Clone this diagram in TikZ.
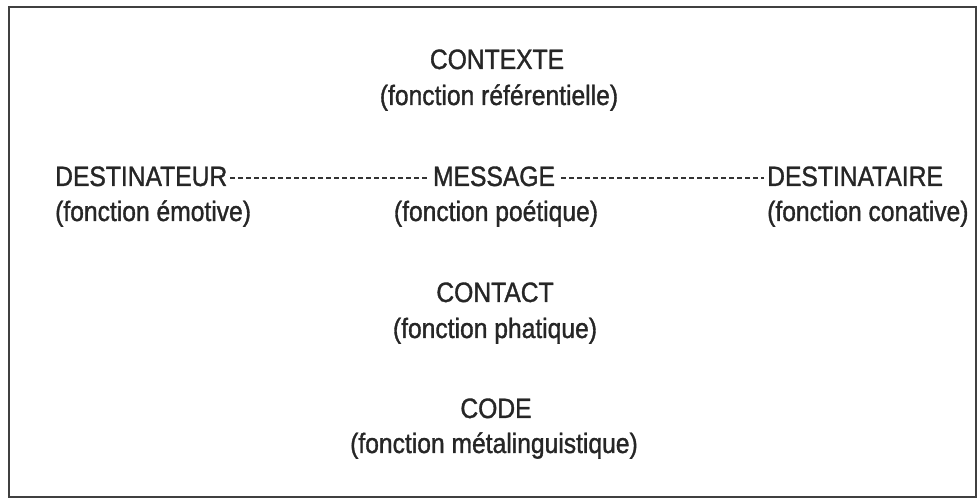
\documentclass[tikz,border=0pt]{standalone}
\usepackage{fontspec}
\setmainfont[FakeStretch=0.88,FakeBold=1.2]{Liberation Sans}
\begin{document}
\begin{tikzpicture}[x=1pt,y=1pt,
  lbl/.style={inner sep=0pt, anchor=base, font=\fontsize{28}{30}\selectfont, text=black!85},
  lblw/.style={lbl, anchor=base west},
  dashline/.style={draw=black!80, line width=2pt, dash pattern=on 5pt off 3pt},
  framebox/.style={draw=black!75, line width=2pt}]
\useasboundingbox (0,0) rectangle (977,500);
\draw[framebox] (9,3) rectangle (976,493);
% centre column
\node[lbl] (contexte) at (497,431) {CONTEXTE};
\node[lbl] (ref) at (499,395) {(fonction référentielle)};
\node[lbl] (message) at (494,314) {MESSAGE};
\node[lbl] (poet) at (496,279) {(fonction poétique)};
\node[lbl] (contact) at (495,198) {CONTACT};
\node[lbl] (phat) at (495,162) {(fonction phatique)};
\node[lbl] (code) at (496,82) {CODE};
\node[lbl] (meta) at (494,47) {(fonction métalinguistique)};
% sides
\node[lblw] (dest) at (55,314) {DESTINATEUR};
\node[lblw] (emot) at (55,279) {(fonction émotive)};
\node[lblw] (destre) at (767,314) {DESTINATAIRE};
\node[lblw] (conat) at (767,279) {(fonction conative)};
% connectors
\draw[dashline] ([xshift=3pt,yshift=7.5pt]dest.base east) -- ([xshift=-6pt,yshift=7.5pt]message.base west);
\draw[dashline] ([xshift=6pt,yshift=7.5pt]message.base east) -- ([xshift=-3pt,yshift=7.5pt]destre.base west);
\end{tikzpicture}
\end{document}
